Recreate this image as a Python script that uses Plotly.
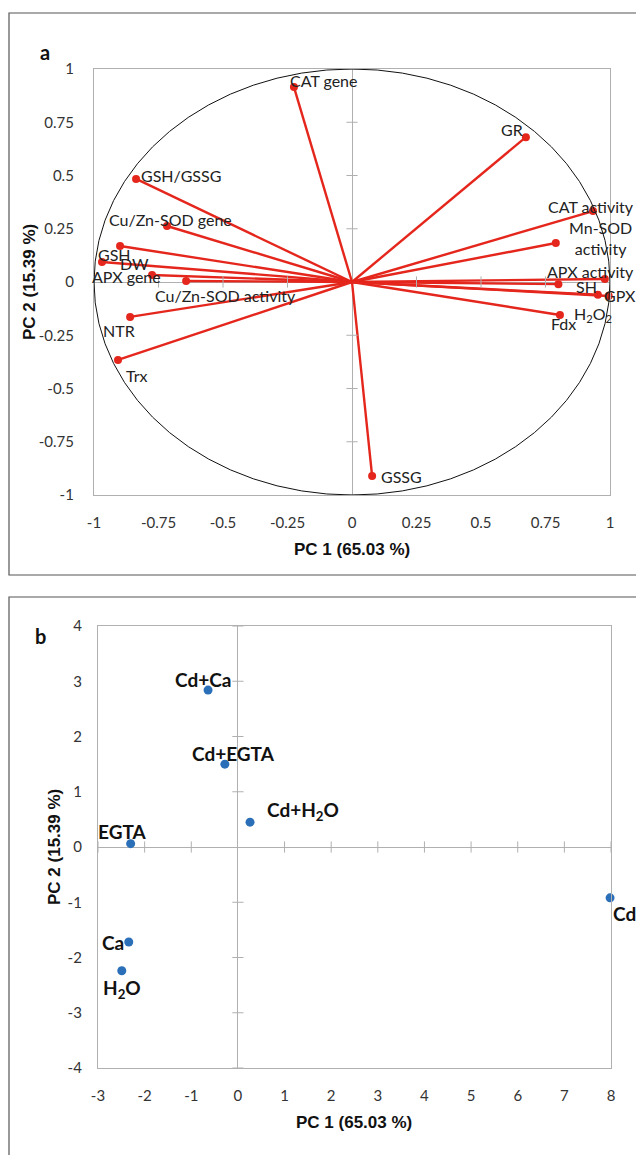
import plotly.graph_objects as go

# ---------------- data: panel a (loadings) ----------------
var_names = ["CAT gene", "GR", "GSH/GSSG", "Cu/Zn-SOD gene", "GSH", "DW", "APX gene",
             "Cu/Zn-SOD activity", "NTR", "Trx", "GSSG", "CAT activity",
             "Mn-SOD<br>activity", "APX activity", "SH", "GPX", "H<sub>2</sub>O<sub>2</sub>", "Fdx"]
pc1_load = [-0.225, 0.674, -0.837, -0.717, -0.899, -0.969, -0.775,
            -0.643, -0.860, -0.907, 0.078, 0.934,
            0.790, 0.980, 0.800, 0.953, 0.995, 0.806]
pc2_load = [0.915, 0.680, 0.484, 0.263, 0.169, 0.094, 0.033,
            0.005, -0.164, -0.366, -0.911, 0.333,
            0.183, 0.014, -0.010, -0.060, -0.066, -0.155]
# label offsets in pixels (dx right, dy up)
load_dx = [30, -14, 45, 3, -6, 32, -26, 39, -11, 19, 29, -2, 45, -14, 28, 22, -16, 4]
load_dy = [7, 8, 3, 6, -8, -2, -2, -15, -14, -16, 0, 5, 5, 8, -2, -1, -18, -8]

# ---------------- data: panel b (scores) ----------------
treat_names = ["Cd+Ca", "Cd+EGTA", "Cd+H<sub>2</sub>O", "EGTA", "Ca", "H<sub>2</sub>O", "Cd"]
pc1_score = [-0.64, -0.28, 0.26, -2.30, -2.34, -2.49, 7.98]
pc2_score = [2.84, 1.50, 0.45, 0.06, -1.72, -2.24, -0.92]
score_dx = [-5, 9, 53, -9, -16, 0, 14]
score_dy = [11, 11, 11, 12, 0, -18, -16]

a_ticks = [-1, -0.75, -0.5, -0.25, 0, 0.25, 0.5, 0.75, 1]
a_ticklabels = ["-1", "-0.75", "-0.5", "-0.25", "0", "0.25", "0.5", "0.75", "1"]
b_xticks = [-3, -2, -1, 0, 1, 2, 3, 4, 5, 6, 7, 8]
b_xticklabels = ["-3", "-2", "-1", "0", "1", "2", "3", "4", "5", "6", "7", "8"]
b_yticks = [-4, -3, -2, -1, 0, 1, 2, 3, 4]
b_yticklabels = ["-4", "-3", "-2", "-1", "0", "1", "2", "3", "4"]

axis_title = "PC 1 (65.03 %)"
yaxis_title = "PC 2 (15.39 %)"

W, H = 636, 1155
RED = "#e4261c"
BLUE = "#2a6fb8"
GRID = "#b0b0b0"
TXT = "#222222"
FONT = "Lato, 'Open Sans', sans-serif"
TFONT = "'Liberation Sans', Arial, sans-serif"

fig = go.Figure()

# vectors
lx, ly = [], []
for x, y in zip(pc1_load, pc2_load):
    lx += [0, x, None]
    ly += [0, y, None]
fig.add_trace(go.Scatter(x=lx, y=ly, mode="lines", line=dict(color=RED, width=2.4),
                         xaxis="x", yaxis="y", hoverinfo="skip", showlegend=False))

# tick marks on the zero axes (panel a)
a_nz = [t for t in a_ticks if t != 0]
fig.add_trace(go.Scatter(x=a_nz, y=[0] * len(a_nz), mode="markers",
                         marker=dict(symbol="line-ns", size=8, line=dict(color=GRID, width=1)),
                         xaxis="x", yaxis="y", hoverinfo="skip", showlegend=False))
fig.add_trace(go.Scatter(x=[0] * len(a_nz), y=a_nz, mode="markers",
                         marker=dict(symbol="line-ew", size=8, line=dict(color=GRID, width=1)),
                         xaxis="x", yaxis="y", hoverinfo="skip", showlegend=False))

fig.add_trace(go.Scatter(x=pc1_load, y=pc2_load, mode="markers",
                         marker=dict(color=RED, size=8), xaxis="x", yaxis="y",
                         showlegend=False, cliponaxis=False))

# tick marks on the zero axes (panel b)
bx_nz = [t for t in b_xticks if t != 0]
by_nz = [t for t in b_yticks if t != 0]
fig.add_trace(go.Scatter(x=bx_nz, y=[0] * len(bx_nz), mode="markers",
                         marker=dict(symbol="line-ns", size=8, line=dict(color=GRID, width=1)),
                         xaxis="x2", yaxis="y2", hoverinfo="skip", showlegend=False))
fig.add_trace(go.Scatter(x=[0] * len(by_nz), y=by_nz, mode="markers",
                         marker=dict(symbol="line-ew", size=8, line=dict(color=GRID, width=1)),
                         xaxis="x2", yaxis="y2", hoverinfo="skip", showlegend=False))

fig.add_trace(go.Scatter(x=pc1_score, y=pc2_score, mode="markers",
                         marker=dict(color=BLUE, size=9), xaxis="x2", yaxis="y2",
                         showlegend=False, cliponaxis=False))

ann = []
for n, x, y, dx, dy in zip(var_names, pc1_load, pc2_load, load_dx, load_dy):
    ann.append(dict(x=x, y=y, xref="x", yref="y", text=n, showarrow=False,
                    xanchor="center", yanchor="middle", xshift=dx, yshift=dy,
                    font=dict(family=FONT, size=16, color=TXT)))
for n, x, y, dx, dy in zip(treat_names, pc1_score, pc2_score, score_dx, score_dy):
    ann.append(dict(x=x, y=y, xref="x2", yref="y2", text=n, showarrow=False,
                    xanchor="center", yanchor="middle", xshift=dx, yshift=dy,
                    font=dict(family=FONT, size=19, color="#111111", weight="bold")))

def px_x(p):
    return p / W

def px_y(p):
    return 1 - p / H

# panel letters and axis titles
ann += [
    dict(x=px_x(45), y=px_y(52), xref="paper", yref="paper", text="<b>a</b>", showarrow=False,
         font=dict(family=FONT, size=20, color="#111"), xanchor="center", yanchor="middle"),
    dict(x=px_x(40), y=px_y(636), xref="paper", yref="paper", text="<b>b</b>", showarrow=False,
         font=dict(family=FONT, size=20, color="#111"), xanchor="center", yanchor="middle"),
    dict(x=px_x(352), y=px_y(549), xref="paper", yref="paper", text="<b>" + axis_title + "</b>",
         showarrow=False, font=dict(family=TFONT, size=17, color="#111"), xanchor="center", yanchor="middle"),
    dict(x=px_x(30), y=px_y(282), xref="paper", yref="paper", text="<b>" + yaxis_title + "</b>",
         showarrow=False, textangle=-90, font=dict(family=TFONT, size=17, color="#111"),
         xanchor="center", yanchor="middle"),
    dict(x=px_x(354), y=px_y(1122), xref="paper", yref="paper", text="<b>" + axis_title + "</b>",
         showarrow=False, font=dict(family=TFONT, size=17, color="#111"), xanchor="center", yanchor="middle"),
    dict(x=px_x(55), y=px_y(847), xref="paper", yref="paper", text="<b>" + yaxis_title + "</b>",
         showarrow=False, textangle=-90, font=dict(family=TFONT, size=17, color="#111"),
         xanchor="center", yanchor="middle"),
]

shapes = [
    # unit circle
    dict(type="circle", xref="x", yref="y", x0=-1, x1=1, y0=-1, y1=1,
         line=dict(color="#111", width=1), layer="above"),
    # panel frames
    dict(type="rect", xref="paper", yref="paper", x0=px_x(9), x1=px_x(660), y0=px_y(575), y1=px_y(13),
         line=dict(color="#555", width=1.2)),
    dict(type="rect", xref="paper", yref="paper", x0=px_x(9), x1=px_x(660), y0=px_y(1180), y1=px_y(597),
         line=dict(color="#555", width=1.2)),
]

common_axis = dict(showgrid=False, zeroline=True, zerolinecolor=GRID, zerolinewidth=1.3,
                   showline=True, linecolor=GRID, linewidth=1.3, mirror=True, ticks="",
                   automargin=False,
                   tickfont=dict(family=FONT, size=15, color="#333"), fixedrange=True)

fig.update_layout(
    width=W, height=H, margin=dict(l=0, r=0, t=0, b=0, pad=0, autoexpand=False),
    paper_bgcolor="white", plot_bgcolor="white",
    xaxis=dict(domain=[px_x(94), px_x(610)], range=[-1, 1], tickvals=a_ticks, ticktext=a_ticklabels,
               anchor="y", ticklabelstandoff=14, **common_axis),
    yaxis=dict(domain=[px_y(495), px_y(69)], range=[-1, 1], tickvals=a_ticks, ticktext=a_ticklabels,
               anchor="x", ticklabelstandoff=16, **common_axis),
    xaxis2=dict(domain=[px_x(98), px_x(611)], range=[-3, 8], tickvals=b_xticks, ticktext=b_xticklabels,
                anchor="y2", ticklabelstandoff=14, **common_axis),
    yaxis2=dict(domain=[px_y(1068), px_y(626)], range=[-4, 4], tickvals=b_yticks, ticktext=b_yticklabels,
                anchor="x2", ticklabelstandoff=12, **common_axis),
    annotations=ann, shapes=shapes,
)

fig.write_html("out.html", config={"displayModeBar": False},
               post_script="document.body.style.margin='0';document.body.style.overflow='hidden';")
